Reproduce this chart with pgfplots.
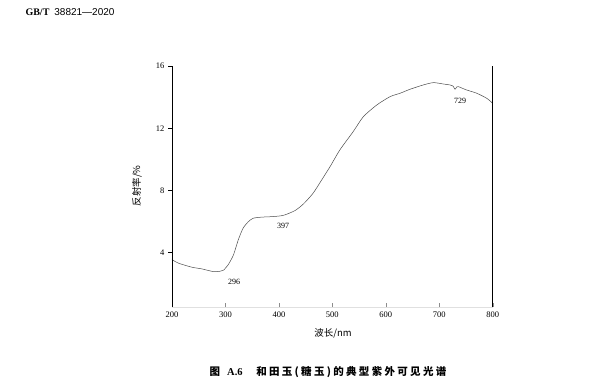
\documentclass[border=0pt]{standalone}
\usepackage{fontspec}
\setmainfont{Liberation Serif}
\newfontfamily\cjk{Noto Sans CJK SC}
\newfontfamily\cjkcap[LetterSpace=22]{Noto Sans CJK SC}
\newfontfamily\hsans{Liberation Sans}
\usepackage{pgfplots}
\pgfplotsset{compat=1.18}
\begin{document}
\begin{tikzpicture}
\path[use as bounding box] (0pt,0pt) rectangle (603pt,385pt);
\begin{axis}[
  at={(172pt,78pt)}, anchor=south west,
  scale only axis, width=320.7pt, height=241pt,
  xmin=200, xmax=800, ymin=0.5, ymax=16,
  xtick={200,300,...,800}, ytick={4,8,12,16},
  xtick pos=bottom, ytick pos=left,
  tick align=inside,
  major tick length=4pt,
  x tick style={black!45, line width=0.4pt},
  y tick style={black, line width=0.5pt, xshift=-4pt},
  axis line style={draw=none},
  /pgf/number format/assume math mode=true,
  tick label style={font=\fontsize{8.5}{9}\selectfont},
  yticklabel style={xshift=-4pt},
  xticklabel style={yshift=-1pt},
  clip=false,
]
\addplot[black!70, line width=0.5pt, smooth, tension=0.4] coordinates {
(200,3.60) (201,3.53) (212,3.32) (237,3.06) (256,2.95) (277,2.78) (290,2.80)
(296,2.86) (305,3.21) (315,3.85) (324,4.82) (333,5.57) (343,5.99)
(352,6.21) (368,6.28) (386,6.31) (408,6.39) (430,6.70) (446,7.13)
(464,7.82) (480,8.67) (497,9.60) (514,10.60) (539,11.78) (558,12.74)
(583,13.49) (608,14.03) (627,14.25) (645,14.50) (670,14.78) (689,14.93)
(708,14.84) (720,14.78) (726,14.70) (729.5,14.50) (733,14.66) (736,14.67)
(751,14.46) (770,14.25) (789,13.92) (800,13.60)
};
\draw[black, line width=0.6pt] (rel axis cs:0,0) -- (rel axis cs:0,1);
\draw[black, line width=0.6pt] (rel axis cs:1,0) -- (rel axis cs:1,1);
\draw[black!12, line width=0.5pt] (rel axis cs:0,0) -- (rel axis cs:1,0);
\node[font=\fontsize{8}{8}\selectfont] at (axis cs:316,2.12) {296};
\node[font=\fontsize{8}{8}\selectfont] at (axis cs:408,5.72) {397};
\node[font=\fontsize{8}{8}\selectfont] at (axis cs:739,13.75) {729};
\end{axis}
\node[rotate=90, font=\cjk\fontsize{9.5}{10}\selectfont] at (137pt,199pt) {反射率/\%};
\node[font=\cjk\fontsize{9.5}{10}\selectfont] at (333pt,52pt) {波长/nm};
\node[font=\cjkcap\bfseries\fontsize{10.5}{11}\selectfont] at (328pt,13pt) {图\ \textrm{\textbf{A.6}}\hspace{1.3em}和田玉(糖玉)的典型紫外可见光谱};
\node[anchor=west, font=\fontsize{10}{10}\selectfont] at (22pt,373pt) {\textbf{GB/T}\ \ {\hsans 38821—2020}};
\end{tikzpicture}
\end{document}
